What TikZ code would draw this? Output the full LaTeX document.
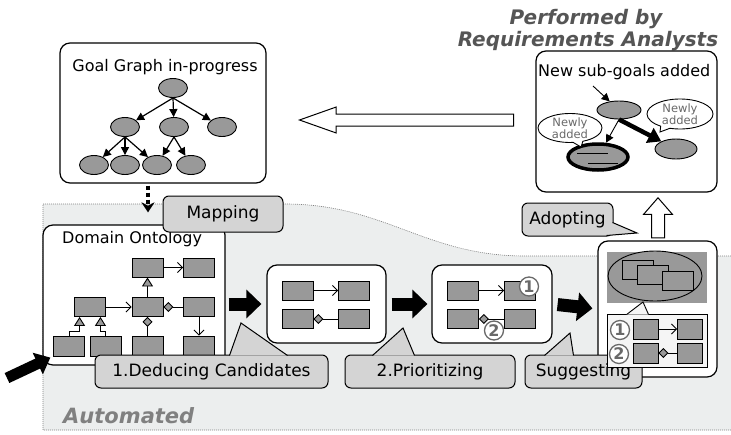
\documentclass[tikz,border=0pt]{standalone}
\usepackage{fontspec}
\setmainfont{DejaVu Sans}
\usetikzlibrary{arrows.meta,calc,shapes.geometric,shapes.arrows,shapes.callouts}

\definecolor{clsgray}{RGB}{153,153,153}
\definecolor{bubblegray}{RGB}{212,212,212}
\definecolor{autogray}{RGB}{236,238,238}
\definecolor{rankgray}{RGB}{105,105,105}
\definecolor{headgray}{RGB}{85,85,85}

\tikzset{
  panel/.style={draw, line width=1.2pt, rounded corners=10pt, fill=white, inner sep=0pt},
  cls/.style={draw, line width=0.9pt, fill=clsgray, minimum width=31pt, minimum height=19pt, inner sep=0pt},
  goal/.style={ellipse, draw, line width=0.9pt, fill=clsgray, minimum width=29pt, minimum height=19pt, inner sep=0pt},
  assoc/.style={line width=0.9pt, -{Straight Barb[length=5pt,width=10pt]}},
  inherit/.style={line width=0.9pt, -{Triangle[length=9pt,width=11pt,fill=clsgray]}},
  agg/.style={line width=0.9pt, -{Diamond[length=10pt,width=10pt,fill=clsgray]}},
  refine/.style={line width=1.2pt, -{Triangle[length=8pt,width=8pt]}},
  flow/.style={line width=13pt, -{Triangle[length=15pt,width=28pt]}},
  bubble/.style={draw, line width=1pt, fill=bubblegray, rounded corners=6pt, inner sep=0pt, font=\fontsize{17}{19}\selectfont},
  tail/.style={line width=1pt},
  paneltitle/.style={anchor=base, font=\fontsize{16}{19}\selectfont, inner sep=0pt},
  rank/.style={circle, draw=rankgray, line width=1.3pt, fill=white, text=rankgray, minimum size=19pt, inner sep=0pt, font=\fontsize{16}{16}\selectfont\bfseries},
  hollow/.style={single arrow, draw, line width=1pt, fill=white, single arrow head indent=0pt, anchor=tip},
  newly/.style={ellipse callout, draw, line width=0.9pt, fill=white, inner sep=0pt, callout pointer arc=18},
  newlytext/.style={align=center, font=\fontsize{11.5}{12.5}\selectfont, text=rankgray, inner sep=0pt},
  banner/.style={anchor=base, font=\fontsize{20}{22}\selectfont\bfseries\itshape, text=headgray, inner sep=0pt},
}

\begin{document}
\begin{tikzpicture}[x=1pt,y=-1pt]
\useasboundingbox (0,0) rectangle (731,434);

% automated part
\fill[autogray] (43,204) -- (285,204) .. controls (385,204) and (425,256) .. (525,256) -- (731,256) -- (731,430) -- (43,430) -- cycle;
\draw[gray, line width=0.6pt, dash pattern=on 1pt off 1pt] (731,256) -- (525,256) .. controls (425,256) and (385,204) .. (285,204) -- (43,204) -- (43,430) -- (731,430);
\node[anchor=base west, font=\fontsize{21}{24}\selectfont\bfseries\itshape, text=gray, inner sep=0pt] (automated) at (63,423) {Automated};

\node[banner] (performed) at (586,24) {Performed by};
\node[banner] (analysts) at (588,46) {Requirements Analysts};

% goal graph
\node[panel, minimum width=206pt, minimum height=140pt] (graph) at (163,113) {};
\node[paneltitle] (graphtitle) at (165,71) {Goal Graph in-progress};
\node[goal] (g0) at (173,88) {};
\node[goal] (g1) at (125,127) {};
\node[goal] (g2) at (174,127) {};
\node[goal] (g3) at (222,127) {};
\node[goal] (g4) at (94,165) {};
\node[goal] (g5) at (125,165) {};
\node[goal] (g6) at (157,165) {};
\node[goal] (g7) at (191,165) {};
\draw[refine] (g0.south) -- (g1);
\draw[refine] (g0.south) -- (g2);
\draw[refine] (g0.south) -- (g3);
\draw[refine] (g1.south) -- (g4);
\draw[refine] (g1.south) -- (g5);
\draw[refine] (g1.south) -- (g6);
\draw[refine] (g2.south) -- (g6);
\draw[refine] (g2.south) -- (g7);

% new sub-goals
\node[panel, minimum width=181pt, minimum height=141pt] (added) at (626.5,121.5) {};
\node[paneltitle, anchor=base west] (addedtitle) at (538,76) {New sub-goals added};
\node[goal, minimum width=44pt, minimum height=18pt] (na) at (619,110) {};
\node[goal, minimum width=42pt, minimum height=20pt] (nb) at (676,149) {};
\node[goal, line width=3.5pt, minimum width=60pt, minimum height=26pt] (nc) at (598,157) {};
\draw[line width=0.9pt] ($(nc)+(-21,-4)$) -- ($(nc)+(10,-4)$);
\draw[line width=0.9pt] ($(nc)+(-10,6)$) -- ($(nc)+(20,6)$);
\coordinate (nsrc) at (593,86);
\draw[refine, line width=0.9pt] (nsrc) -- (na);
\draw[line width=4.5pt, -{Triangle[length=13pt,width=16pt]}] (na.south) -- (nb);
\draw[refine, line width=0.9pt] (na.south) -- (nc);
\node[newly, minimum width=64pt, minimum height=29pt, callout absolute pointer={(581,147)}] (lnew) at (570,128) {};
\node[newlytext] at (lnew.center) {Newly\\added};
\node[newly, minimum width=66pt, minimum height=30pt, callout absolute pointer={(660,132)}] (rnew) at (680,114) {};
\node[newlytext] at (rnew.center) {Newly\\added};

% hollow arrows
\node[hollow, shape border rotate=180, minimum height=214pt, inner sep=5.5pt, single arrow head extend=7pt, single arrow tip angle=39] (feedback) at (298,120) {};
\node[hollow, shape border rotate=90, minimum height=40pt, inner sep=6pt, single arrow head extend=8pt, single arrow tip angle=82] (adoptup) at (658,197) {};

% domain ontology
\node[panel, minimum width=182pt, minimum height=140pt] (onto) at (134,295) {};
\node[paneltitle, anchor=base west] (ontotitle) at (62,243) {Domain Ontology};
\node[cls] (r1) at (147.5,267.5) {};
\node[cls] (r2) at (199,267.5) {};
\node[cls] (r3) at (89.5,307) {};
\node[cls] (r4) at (147.5,307) {};
\node[cls] (r5) at (199,307) {};
\node[cls, minimum height=20pt] (r6) at (69,346) {};
\node[cls, minimum height=20pt] (r7) at (105.5,346) {};
\node[cls, minimum height=20pt] (r8) at (147.5,346) {};
\node[cls, minimum height=20pt] (r9) at (199,346) {};
\draw[assoc] (r1) -- (r2);
\draw[assoc] (r3) -- (r4);
\draw[inherit] (r4) -- (r1);
\draw[agg] (r5) -- (r4);
\draw[agg] (r8) -- (r4);
\draw[assoc] (r5) -- (r9);
\draw[inherit] (r6.north) |- ($(r3.south west)+(6,14)$) -- ($(r3.south west)+(6,0)$);
\draw[inherit] (r7.north) |- ($(r3.south east)+(-5,14)$) -- ($(r3.south east)+(-5,0)$);

% mapping
\draw[line width=4pt, dash pattern=on 4pt off 3pt, -{Stealth[length=10pt,width=13pt]}] ($(graph.south)+(-15,2)$) -- ($(onto.north)+(14,-12)$);
\node[bubble, minimum width=120pt, minimum height=36pt] (mapping) at (223,214) {Mapping};

% candidates
\node[panel, minimum width=119pt, minimum height=78pt] (cand) at (326.5,304) {};
\node[cls] (c1) at (297.5,290.5) {};
\node[cls] (c2) at (354,290.5) {};
\node[cls] (c3) at (297.5,319) {};
\node[cls] (c4) at (354,319) {};
\draw[assoc] (c1) -- (c2);
\draw[agg] (c4) -- (c3);

% prioritized
\node[panel, minimum width=120pt, minimum height=78pt] (prior) at (492,304) {};
\node[cls] (p1) at (463,290.5) {};
\node[cls] (p2) at (520,290.5) {};
\node[cls] (p3) at (463,319) {};
\node[cls] (p4) at (520,319) {};
\draw[assoc] (p1) -- (p2);
\draw[agg] (p4) -- (p3);
\node[rank] (p1rank) at (529,286.5) {1};
\node[rank] (p2rank) at (494,330.5) {2};

% suggested
\node[panel, minimum width=119pt, minimum height=136pt] (suggest) at (657.5,309) {};

% flow
\draw[flow, shorten <=3pt, shorten >=5pt] (onto.east |- cand.west) -- (cand.west);
\draw[flow, shorten <=5pt, shorten >=4pt] (cand.east) -- (prior.west);
\draw[flow, shorten <=5pt, shorten >=5pt] (prior.east) -- (suggest.west);
\coordinate (entry) at (7,378);
\draw[line width=11pt, -{Triangle[length=14pt,width=23pt]}] (entry) -- ($(onto.south west)+(8,-8)$);

% steps
\node[bubble, minimum width=233pt, minimum height=33pt] (deduce) at (211.5,371.5) {1.Deducing Candidates};
\coordinate (deducetip) at (241,323);
\fill[bubblegray] ($(deduce.north west)+(135,1)$) -- (deducetip) -- ($(deduce.north west)+(193,1)$) -- cycle;
\draw[tail] ($(deduce.north west)+(135,1)$) -- (deducetip) -- ($(deduce.north west)+(193,1)$);

\node[bubble, minimum width=170pt, minimum height=33pt] (prioritize) at (430,371.5) {2.Prioritizing};
\coordinate (prioritizetip) at (403,328);
\fill[bubblegray] ($(prioritize.north west)+(28,1)$) -- (prioritizetip) -- ($(prioritize.north west)+(70,1)$) -- cycle;
\draw[tail] ($(prioritize.north west)+(28,1)$) -- (prioritizetip) -- ($(prioritize.north west)+(70,1)$);

\node[bubble, minimum width=117pt, minimum height=33pt] (suggesting) at (583.5,371.5) {Suggesting};
\coordinate (suggestingtip) at (570,333);
\fill[bubblegray] ($(suggesting.north west)+(20,1)$) -- (suggestingtip) -- ($(suggesting.north west)+(49,1)$) -- cycle;
\draw[tail] ($(suggesting.north west)+(20,1)$) -- (suggestingtip) -- ($(suggesting.north west)+(49,1)$);

\node[bubble, minimum width=91pt, minimum height=33pt] (adopting) at (567.5,219.5) {Adopting};
\coordinate (adoptingtip) at (637,233);
\fill[bubblegray] ($(adopting.north east)+(-1,20)$) -- (adoptingtip) -- ($(adopting.south east)+(-7,-1)$) -- cycle;
\draw[tail] ($(adopting.north east)+(-1,20)$) -- (adoptingtip) -- ($(adopting.south east)+(-7,-1)$);

% suggestion contents
\node[fill=clsgray, minimum width=100pt, minimum height=51pt, inner sep=0pt] (pool) at (657,277) {};
\node[ellipse, draw, line width=0.9pt, fill=clsgray, minimum width=94pt, minimum height=50pt, inner sep=0pt] (poolring) at (655,276) {};
\node[cls] (s1) at (638,270.3) {};
\node[cls] (s2) at (653,275.3) {};
\node[cls] (s3) at (677.7,280.5) {};
\node[draw, line width=0.9pt, fill=white!96!black, minimum width=100pt, minimum height=53pt, inner sep=0pt] (picked) at (657,340.5) {};
\coordinate (pickedtip) at (643,302);
\fill[white!96!black] ($(picked.north west)+(20,1)$) -- (pickedtip) -- ($(picked.north west)+(42,1)$) -- cycle;
\draw[line width=0.9pt] ($(picked.north west)+(20,1)$) -- (pickedtip) -- ($(picked.north west)+(42,1)$);
\node[cls, minimum width=25pt, minimum height=20pt] (q1) at (645.5,329) {};
\node[cls, minimum width=25pt, minimum height=20pt] (q2) at (690,329) {};
\node[cls, minimum width=25pt, minimum height=20pt] (q3) at (645.5,353) {};
\node[cls, minimum width=25pt, minimum height=20pt] (q4) at (690,353) {};
\draw[assoc] (q1) -- (q2);
\draw[agg] (q4) -- (q3);
\node[rank] (q1rank) at (620,330) {1};
\node[rank] (q2rank) at (619,354) {2};

\end{tikzpicture}
\end{document}
